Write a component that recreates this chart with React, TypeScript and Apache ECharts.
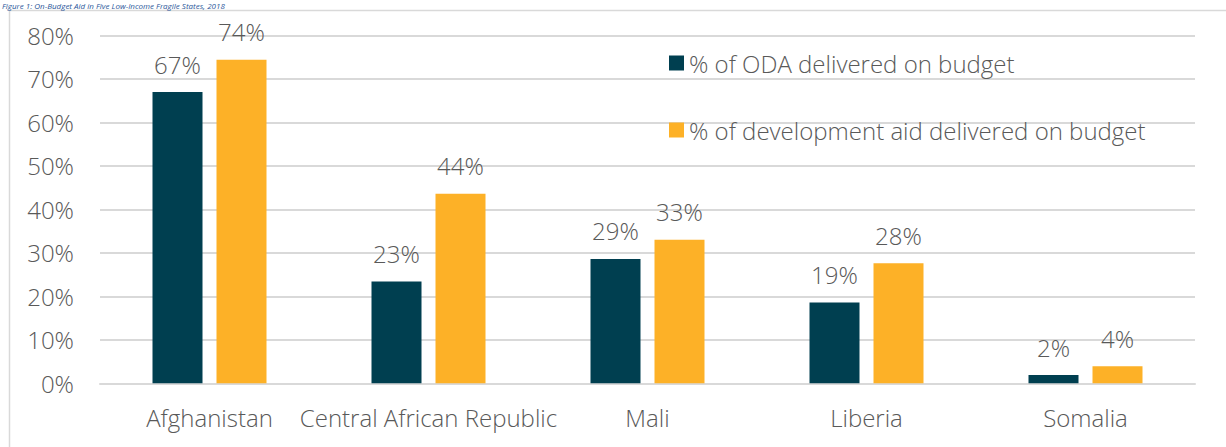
import React, { useEffect, useRef } from "react";
import * as echarts from "echarts";

const categories = ["Afghanistan", "Central African Republic", "Mali", "Liberia", "Somalia"];
const odaValues = [67, 23.4, 28.6, 18.6, 1.9];
const devValues = [74.4, 43.6, 33, 27.6, 3.9];
const seriesNames = ["% of ODA delivered on budget", "% of development aid delivered on budget"];
const titleText = "Figure 1: On-Budget Aid in Five Low-Income Fragile States, 2018";

const FONT = "'Open Sans', sans-serif";
const TEXT = "#595959";

export default function App() {
  const ref = useRef<HTMLDivElement>(null);
  useEffect(() => {
    if (!ref.current) return;
    const chart = echarts.init(ref.current, undefined, { renderer: "svg" });
    const label = {
      show: true,
      position: "top",
      distance: 16,
      color: TEXT,
      fontFamily: FONT,
      fontWeight: 300,
      fontSize: 24,
      formatter: (p: any) => Math.round(p.value) + "%",
    };
    chart.setOption({
      animation: false,
      backgroundColor: "#ffffff",
      textStyle: { fontFamily: FONT },
      graphic: [
        {
          type: "rect",
          shape: { x: 9.5, y: 10.5, width: 1400, height: 600 },
          style: { fill: "none", stroke: "#d9d9d9", lineWidth: 1.5 },
          silent: true,
        },
        {
          type: "text",
          x: 2,
          y: 1,
          style: {
            text: titleText,
            fontFamily: FONT,
            fontStyle: "italic",
            fontSize: 8,
            lineHeight: 9,
            fill: "#2B579A",
            verticalAlign: "top",
          },
        },
      ],
      legend: {
        orient: "vertical",
        left: 664,
        top: 46,
        itemWidth: 15,
        itemHeight: 15,
        itemGap: 43,
        icon: "rect",
        textStyle: { color: TEXT, fontFamily: FONT, fontWeight: 300, fontSize: 24, lineHeight: 24 },
        data: seriesNames,
      },
      grid: { left: 100, right: 31, top: 35.5, bottom: 63.7, containLabel: false },
      xAxis: {
        type: "category",
        data: categories,
        axisLine: { lineStyle: { color: "#d9d9d9", width: 2 } },
        axisTick: { show: false },
        axisLabel: { color: TEXT, fontFamily: FONT, fontWeight: 300, fontSize: 24, margin: 22, interval: 0 },
      },
      yAxis: {
        type: "value",
        min: 0,
        max: 80,
        interval: 10,
        axisLine: { show: false },
        axisTick: { show: false },
        axisLabel: { color: TEXT, fontFamily: FONT, fontWeight: 300, fontSize: 24, margin: 26, formatter: "{value}%" },
        splitLine: { lineStyle: { color: "#d9d9d9", width: 2 } },
      },
      series: [
        {
          name: seriesNames[0],
          type: "bar",
          data: odaValues,
          barWidth: 50,
          barGap: "28%",
          itemStyle: { color: "#003F50" },
          label,
        },
        {
          name: seriesNames[1],
          type: "bar",
          data: devValues,
          barWidth: 50,
          barGap: "28%",
          itemStyle: { color: "#FDB127" },
          label,
        },
      ],
    });
    return () => chart.dispose();
  }, []);
  return (
    <div
      ref={ref}
      style={{ position: "fixed", left: 0, top: 0, width: 1226, height: 447 }}
    />
  );
}
